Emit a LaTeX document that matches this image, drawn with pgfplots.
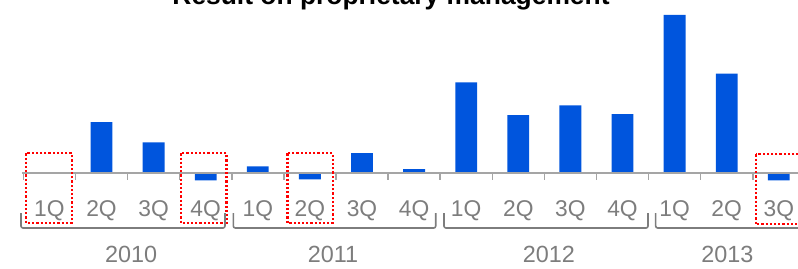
\documentclass[border=0pt]{standalone}
\usepackage{fontspec}
\setmainfont{Liberation Sans}
\usepackage{pgfplots}
\pgfplotsset{compat=1.18}
\definecolor{barblue}{RGB}{0,85,221}
\definecolor{txtgray}{RGB}{125,125,125}
\definecolor{axgray}{RGB}{165,165,165}
\begin{document}
\begin{tikzpicture}
\useasboundingbox (0,0) rectangle (399pt,134pt);
\begin{axis}[
  at={(11.675pt,42.5pt)}, anchor=south west,
  scale only axis, width=390.75pt, height=85pt,
  xmin=-0.5, xmax=14.5, ymin=-10, ymax=160,
  clip=false,
  axis line style={draw=none},
  ytick=\empty,
  xtick={0,...,14},
  xticklabels={1Q,2Q,3Q,4Q,1Q,2Q,3Q,4Q,1Q,2Q,3Q,4Q,1Q,2Q,3Q},
  major tick length=0pt,
  xticklabel style={anchor=center, yshift=-14pt, text=txtgray, font=\fontsize{11.4}{13}\selectfont},
]
\addplot[ybar, bar width=0.42, fill=barblue, draw=none] coordinates {
  (0,-0.8) (1,51) (2,30.7) (3,-7.3)
  (4,6.7) (5,-6.3) (6,20) (7,4)
  (8,90.7) (9,58) (10,67.7) (11,59)
  (12,158) (13,99.3) (14,-7.3)
};
% zero line and separator ticks
\draw[axgray, line width=1pt] (axis cs:-0.53,0) -- (axis cs:14.6,0);
\pgfplotsinvokeforeach{-0.5,0.5,...,14.5}{
  \draw[axgray, line width=0.75pt] (axis cs:#1,0) -- (axis cs:#1,-7);
}
% red dotted highlight boxes
\draw[red, line width=1.1pt, dash pattern=on 1.1pt off 1pt] (axis cs:-0.45,19.7) rectangle (axis cs:0.43,-49.7);
\draw[red, line width=1.1pt, dash pattern=on 1.1pt off 1pt] (axis cs:2.52,19.7) rectangle (axis cs:3.40,-49.7);
\draw[red, line width=1.1pt, dash pattern=on 1.1pt off 1pt] (axis cs:4.57,19.7) rectangle (axis cs:5.44,-49.7);
\draw[red, line width=1.1pt, dash pattern=on 1.1pt off 1pt] (axis cs:13.56,18.7) rectangle (axis cs:14.6,-51.3);
% year brackets
\draw[txtgray, line width=0.8pt, rounded corners=1pt] (axis cs:-0.545,-40) -- (axis cs:-0.545,-55) -- (axis cs:3.37,-55) -- (axis cs:3.37,-40);
\draw[txtgray, line width=0.8pt, rounded corners=1pt] (axis cs:3.53,-40) -- (axis cs:3.53,-55) -- (axis cs:7.415,-55) -- (axis cs:7.415,-40);
\draw[txtgray, line width=0.8pt, rounded corners=1pt] (axis cs:7.574,-40) -- (axis cs:7.574,-55) -- (axis cs:11.49,-55) -- (axis cs:11.49,-40);
\draw[txtgray, line width=0.8pt, rounded corners=1pt] (axis cs:11.637,-40) -- (axis cs:11.637,-55) -- (axis cs:14.7,-55);
% year labels
\node[text=txtgray, font=\fontsize{11.7}{14}\selectfont] at (axis cs:1.57,-81) {2010};
\node[text=txtgray, font=\fontsize{11.7}{14}\selectfont] at (axis cs:5.443,-81) {2011};
\node[text=txtgray, font=\fontsize{11.7}{14}\selectfont] at (axis cs:9.589,-81) {2012};
\node[text=txtgray, font=\fontsize{11.7}{14}\selectfont] at (axis cs:13.015,-81) {2013};
% title (cut off at the top, as in the reference)
\node[anchor=base, inner sep=0pt, font=\bfseries\fontsize{13.2}{16}\selectfont] at (axis cs:6.557,168.5) {Result on proprietary management};
\end{axis}
\end{tikzpicture}
\end{document}
